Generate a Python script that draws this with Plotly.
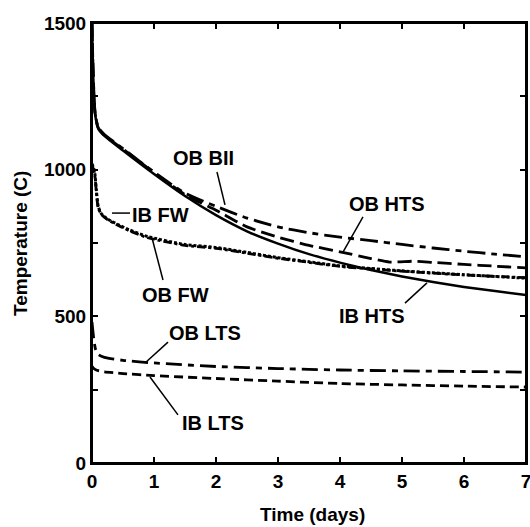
import plotly.graph_objects as go

# ---- data ----
t_hts = [0, 0.02, 0.05, 0.1, 0.2, 0.5, 1.0, 1.5, 2.0, 2.5, 3.0, 3.5, 4.0, 4.5, 5.0, 5.5, 6.0, 6.5, 7.0]
ib_hts = [1500, 1320, 1190, 1140, 1115, 1065, 985, 910, 845, 790, 748, 712, 683, 658, 636, 617, 600, 586, 573]
ob_bii = [1500, 1320, 1195, 1145, 1120, 1072, 992, 920, 875, 835, 805, 785, 770, 758, 745, 733, 722, 712, 703]

t_obhts = [0, 0.02, 0.05, 0.1, 0.2, 0.5, 1.0, 1.5, 2.0, 2.5, 3.0, 3.5, 4.0, 4.5, 4.8, 5.2, 5.5, 6.0, 6.5, 7.0]
ob_hts = [1500, 1320, 1192, 1143, 1118, 1070, 990, 915, 862, 805, 770, 742, 720, 697, 685, 688, 684, 677, 671, 665]

t_fw = [0, 0.04, 0.07, 0.1, 0.15, 0.25, 0.4, 0.6, 0.9, 1.5, 2.0, 2.5, 3.0, 3.5, 4.0, 5.0, 6.0, 7.0]
ib_fw = [1020, 995, 930, 875, 850, 832, 815, 795, 772, 745, 735, 718, 700, 686, 672, 655, 642, 630]
ob_fw = [1015, 990, 925, 870, 848, 830, 812, 792, 768, 742, 732, 715, 698, 684, 670, 654, 641, 632]

t_lts = [0, 0.03, 0.06, 0.1, 0.2, 0.5, 1.0, 2.0, 3.0, 4.0, 5.0, 6.0, 7.0]
ob_lts = [480, 420, 385, 370, 360, 350, 341, 329, 322, 317, 314, 312, 310]
ib_lts = [330, 322, 318, 315, 311, 305, 298, 288, 279, 271, 266, 262, 259]

y_tickvals = [0, 250, 500, 750, 1000, 1250, 1500]
y_ticktext = ["0", "", "500", "", "1000", "", "1500"]
x_tickvals = [0, 1, 2, 3, 4, 5, 6, 7]

FONT = "Liberation Sans, Arial, sans-serif"

fig = go.Figure()

def add(x, y, dash, width=2.5):
    fig.add_trace(go.Scatter(x=x, y=y, mode="lines",
                             line=dict(color="black", width=width, dash=dash, shape="spline", smoothing=0.6),
                             showlegend=False, hoverinfo="skip", cliponaxis=True))

add(t_hts, ib_hts, "solid", 2.5)
add(t_hts, ob_bii, "18px,6px,6px,6px", 2.8)
add(t_obhts, ob_hts, "14px,6px", 2.8)
add(t_fw, ib_fw, "3px,2px", 3)
add(t_fw, ob_fw, "8px,3px,3px,3px", 2.8)
add(t_lts, ob_lts, "16px,6px,6px,6px", 2.8)
add(t_lts, ib_lts, "9px,5px", 2.8)

# labels: (text, text_x, text_y, pointer_from, pointer_to)
labels = [
    ("OB BII", 1.806, 1040, (2.016, 992), (2.145, 880)),
    ("OB HTS", 4.758, 883, (4.371, 839), (4.048, 719)),
    ("IB HTS", 4.516, 501, (5.048, 545), (5.403, 614)),
    ("IB FW", 1.097, 845, (0.613, 852), (0.323, 852)),
    ("OB FW", 1.339, 573, (1.145, 624), (0.968, 767)),
    ("OB LTS", 1.823, 443, (1.226, 412), (0.855, 341)),
    ("IB LTS", 1.952, 136, (1.387, 164), (0.935, 293)),
]
for txt, tx, ty, p0, p1 in labels:
    fig.add_annotation(x=tx, y=ty, text=txt, showarrow=False,
                       font=dict(family=FONT, size=20, color="black", weight="bold"))
    fig.add_shape(type="line", x0=p0[0], y0=p0[1], x1=p1[0], y1=p1[1],
                  line=dict(color="black", width=1.5))

# axis titles as paper-anchored text
title_font = dict(family=FONT, size=19, color="black", weight="bold")
fig.add_annotation(text="Time (days)", xref="paper", yref="paper", x=0.507, y=-0.118,
                   showarrow=False, font=title_font, xanchor="center", yanchor="middle")
fig.add_annotation(text="Temperature (C)", xref="paper", yref="paper", x=-0.166, y=0.5,
                   showarrow=False, font=title_font, textangle=-90,
                   xanchor="center", yanchor="middle")

# frame around the plot area
fig.add_shape(type="rect", xref="paper", yref="paper", x0=0, y0=0, x1=1, y1=1,
              line=dict(color="black", width=2), layer="above")

axis_common = dict(showline=True, linecolor="black", linewidth=2, mirror="allticks",
                   ticks="inside", ticklen=6, tickwidth=2, tickcolor="black",
                   showgrid=False, zeroline=False, ticklabeloverflow="allow",
                   automargin=False,
                   tickfont=dict(family=FONT, size=19, color="black", weight="bold"))

fig.update_xaxes(range=[0, 7], tickvals=x_tickvals, ticktext=[str(v) for v in x_tickvals],
                 **axis_common)
fig.update_yaxes(range=[0, 1500], tickvals=y_tickvals, ticktext=y_ticktext,
                 **axis_common)

fig.update_layout(width=530, height=527, margin=dict(l=92, r=4, t=23, b=64),
                  plot_bgcolor="white", paper_bgcolor="white")

# remove the browser's default page margin so the figure fills the window exactly
fig.write_html("out.html", config={"displayModeBar": False},
               post_script="document.body.style.margin='0';document.body.style.overflow='hidden';")
